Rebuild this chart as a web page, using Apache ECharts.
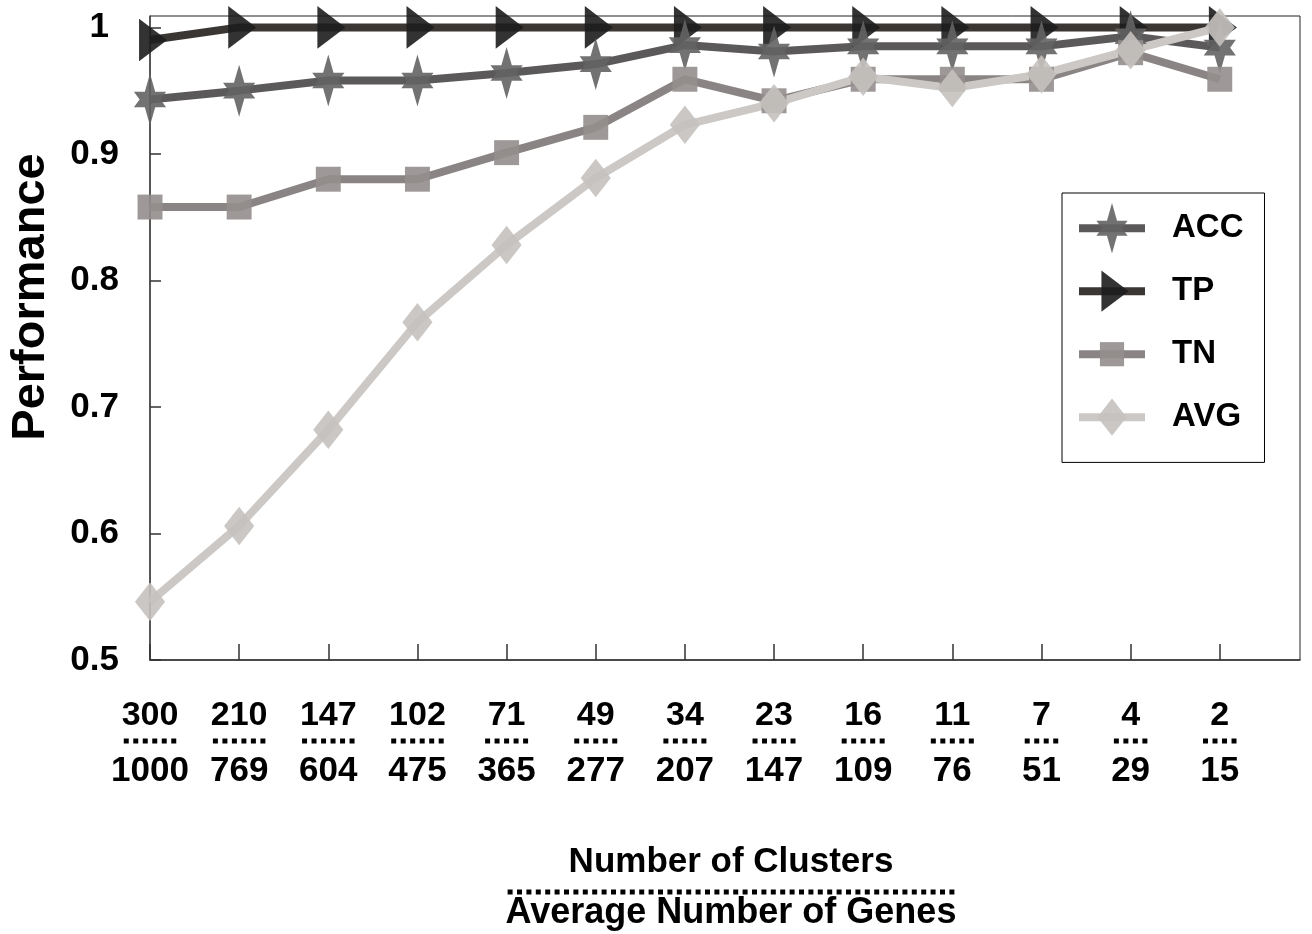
<!DOCTYPE html>
<html><head><meta charset="utf-8">
<script src="https://cdn.jsdelivr.net/npm/echarts@6/dist/echarts.min.js"></script>
<style>html,body{margin:0;padding:0;background:#fff}#c{width:1312px;height:934px}</style>
</head><body><div id="c"></div>
<script>
// ---- data ----
const seriesNames = ['ACC', 'TP', 'TN', 'AVG'];
const clusters = ['300','210','147','102','71','49','34','23','16','11','7','4','2'];
const genes = ['1000','769','604','475','365','277','207','147','109','76','51','29','15'];
const yTicks = [0.5, 0.6, 0.7, 0.8, 0.9, 1.0];
const accValues = [0.943,0.950,0.958,0.958,0.964,0.971,0.986,0.981,0.985,0.985,0.985,0.993,0.984];
const tpValues  = [0.990,1,1,1,1,1,1,1,1,1,1,1,1];
const tnValues  = [0.858,0.858,0.880,0.880,0.901,0.921,0.959,0.942,0.959,0.959,0.959,0.980,0.959];
const avgValues = [0.546,0.606,0.682,0.767,0.828,0.881,0.923,0.940,0.961,0.952,0.963,0.982,1.000];

// ---- styling helpers ----
const FONT = 'Liberation Sans, Arial, sans-serif';
const BOX = 'M-50,-50M50,50';
const SYM = {
  ACC: 'path://' + BOX + 'M0,-50L10,-15L31,-15L20,0L31,15L10,15L0,50L-10,15L-31,15L-20,0L-31,-15L-10,-15Z',
  TP:  'path://' + BOX + 'M-21,-41L33,0L-21,41Z',
  TN:  'path://' + BOX + 'M-24,-24L24,-24L24,24L-24,24Z',
  AVG: 'path://' + BOX + 'M0,-37L29,0L0,37L-29,0Z'
};
const COLORS = {
  ACC: {line: '#5b5959', sym: '#646363'},
  TP:  {line: '#3a3634', sym: '#1e1d1d'},
  TN:  {line: '#8a8584', sym: '#938e8d'},
  AVG: {line: '#cbc8c5', sym: '#c4c1be'}
};
const dots = (n, key, gap) => Array(n).fill('{' + key + '| }').join('{' + gap + '| }');

const valuesBy = {ACC: accValues, TP: tpValues, TN: tnValues, AVG: avgValues};
const drawOrder = ['TP', 'ACC', 'TN', 'AVG'];

const chart = echarts.init(document.getElementById('c'), null, {renderer: 'canvas'});
chart.setOption({
  backgroundColor: '#fff',
  animation: false,
  grid: {left: 150, right: 12, top: 16, bottom: 274, show: true, borderColor: '#222', borderWidth: 1,
         backgroundColor: 'transparent', containLabel: false, outerBoundsMode: 'none'},
  legend: {
    orient: 'vertical', left: 1062, top: 193,
    data: seriesNames,
    itemWidth: 66, itemHeight: 63, itemGap: 12.6,
    padding: [10, 21, 20, 13],
    borderColor: '#000', borderWidth: 1,
    lineStyle: {width: 8},
    textStyle: {fontFamily: FONT, fontWeight: 'bold', fontSize: 33, color: '#000', padding: [10, 0, 0, 22]}
  },
  xAxis: {
    type: 'value', min: 0, max: 12.9, interval: 1,
    splitLine: {show: false},
    axisLine: {lineStyle: {color: '#333', width: 1.5}},
    axisTick: {inside: true, length: 16, lineStyle: {color: '#333', width: 1.5}},
    axisLabel: {
      margin: 38,
      showMaxLabel: false,
      formatter: function (v) {
        const i = Math.round(v);
        if (Math.abs(v - i) > 1e-6 || i < 0 || i >= clusters.length) return '';
        const n = clusters[i].length >= 3 ? 6 : clusters[i].length === 2 ? 5 : 4;
        return '{a|' + clusters[i] + '}\n' + dots(n, 'q', 's') + '\n{b|' + genes[i] + '}';
      },
      rich: {
        a: {fontFamily: FONT, fontWeight: 'bold', fontSize: 34, color: '#000', lineHeight: 36},
        q: {width: 5, height: 5, backgroundColor: '#000', fontSize: 4, lineHeight: 14},
        s: {width: 4.5, fontSize: 4, lineHeight: 14},
        b: {fontFamily: FONT, fontWeight: 'bold', fontSize: 35, color: '#000', lineHeight: 46}
      }
    },
    name: '{t|Number of Clusters}\n' + dots(48, 'q', 's') + '\n{u|Average Number of Genes}',
    nameLocation: 'middle',
    nameGap: 182,
    nameTextStyle: {
      padding: [0, 0, 0, 12],
      rich: {
        t: {fontFamily: FONT, fontWeight: 'bold', fontSize: 35, color: '#000', lineHeight: 40},
        q: {width: 5, height: 5, backgroundColor: '#000', fontSize: 4, lineHeight: 20},
        s: {width: 4.4, fontSize: 4, lineHeight: 20},
        u: {fontFamily: FONT, fontWeight: 'bold', fontSize: 36, color: '#000', lineHeight: 22}
      }
    }
  },
  yAxis: {
    type: 'value', min: 0.5, max: 1.009, interval: 0.1,
    splitLine: {show: false},
    axisLine: {lineStyle: {color: '#444', width: 1.5}},
    axisTick: {inside: true, length: 11, lineStyle: {color: '#333', width: 1.5}},
    axisLabel: {
      margin: 31,
      showMaxLabel: false,
      fontFamily: FONT, fontWeight: 'bold', fontSize: 35, color: '#000',
      formatter: function (v) {
        const hit = yTicks.find(t => Math.abs(t - v) < 1e-6);
        if (hit === undefined) return '';
        if (hit === 1) return '{one|1}';
        return hit.toFixed(1);
      },
      rich: {one: {fontFamily: FONT, fontWeight: 'bold', fontSize: 35, color: '#000', padding: [0, 10, 0, 0]}}
    },
    name: 'Performance',
    nameLocation: 'middle',
    nameGap: 95,
    nameTextStyle: {fontFamily: FONT, fontWeight: 'bold', fontSize: 47, color: '#000', padding: [0, 0, 0, 82]}
  },
  series: drawOrder.map(name => ({
    name: name,
    type: 'line',
    data: valuesBy[name].map((v, i) => [i, v]),
    symbol: SYM[name],
    symbolSize: 52,
    lineStyle: {color: COLORS[name].line, width: 8},
    itemStyle: {color: COLORS[name].sym, opacity: 0.9},
    emphasis: {disabled: true}
  }))
});
</script></body></html>
